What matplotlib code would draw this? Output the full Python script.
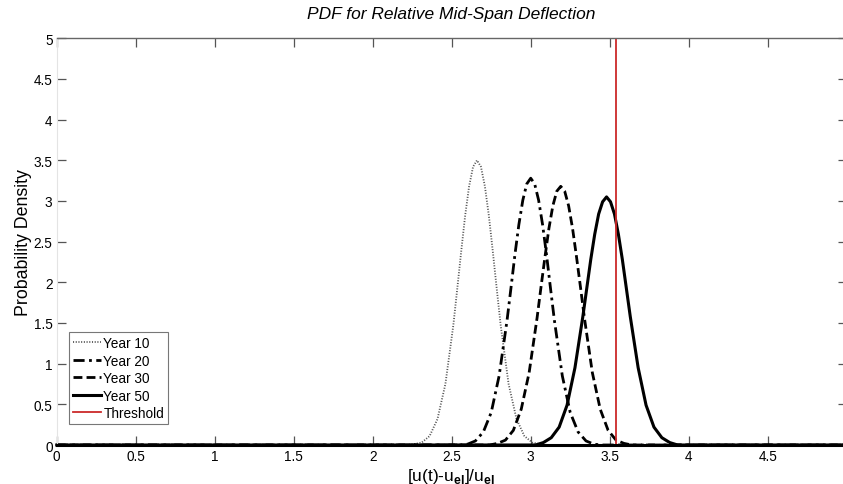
import matplotlib
matplotlib.use("Agg")
import matplotlib.pyplot as plt
import numpy as np

plt.rcParams['font.family'] = ['Liberation Sans', 'DejaVu Sans']
plt.rcParams['mathtext.fontset'] = 'custom'
plt.rcParams['mathtext.rm'] = 'Liberation Sans'
plt.rcParams['mathtext.bf'] = 'Liberation Sans:bold'

# values
x_year10 = [2.21, 2.26, 2.31, 2.36, 2.41, 2.46, 2.51, 2.535, 2.56, 2.585, 2.61, 2.635, 2.66,
            2.685, 2.71, 2.735, 2.76, 2.785, 2.81, 2.86, 2.91, 2.96, 3.01, 3.06, 3.11]
y_year10 = [0.00, 0.01, 0.03, 0.11, 0.32, 0.75, 1.47, 1.92, 2.38, 2.82, 3.18, 3.42, 3.50,
            3.42, 3.18, 2.82, 2.38, 1.92, 1.47, 0.75, 0.32, 0.11, 0.03, 0.01, 0.00]

x_year20 = [2.55, 2.60, 2.65, 2.70, 2.75, 2.80, 2.85, 2.875, 2.90, 2.925, 2.95, 2.975, 3.00,
            3.025, 3.05, 3.075, 3.10, 3.125, 3.15, 3.20, 3.25, 3.30, 3.35, 3.40, 3.45]
y_year20 = [0.00, 0.01, 0.05, 0.16, 0.40, 0.85, 1.53, 1.93, 2.34, 2.71, 3.01, 3.21, 3.28,
            3.21, 3.01, 2.71, 2.34, 1.93, 1.53, 0.85, 0.40, 0.16, 0.05, 0.01, 0.00]

x_year30 = [2.74, 2.79, 2.84, 2.89, 2.94, 2.99, 3.04, 3.065, 3.09, 3.115, 3.14, 3.165, 3.19,
            3.215, 3.24, 3.265, 3.29, 3.315, 3.34, 3.39, 3.44, 3.49, 3.54, 3.59, 3.64]
y_year30 = [0.00, 0.02, 0.06, 0.18, 0.44, 0.89, 1.56, 1.94, 2.31, 2.66, 2.94, 3.12, 3.18,
            3.12, 2.94, 2.66, 2.31, 1.94, 1.56, 0.89, 0.44, 0.18, 0.06, 0.02, 0.00]

x_year50 = [3.03, 3.08, 3.13, 3.18, 3.23, 3.28, 3.33, 3.355, 3.38, 3.405, 3.43, 3.455, 3.48,
            3.505, 3.53, 3.555, 3.58, 3.605, 3.63, 3.68, 3.73, 3.78, 3.83, 3.88, 3.93]
y_year50 = [0.00, 0.03, 0.09, 0.22, 0.49, 0.95, 1.58, 1.93, 2.28, 2.59, 2.84, 2.99, 3.05,
            2.99, 2.84, 2.59, 2.28, 1.93, 1.58, 0.95, 0.49, 0.22, 0.09, 0.03, 0.00]

threshold = 3.54
x_range = [0, 5]
x_ticks = [0, 0.5, 1, 1.5, 2, 2.5, 3, 3.5, 4, 4.5]
x_ticklabels = ['0', '0.5', '1', '1.5', '2', '2.5', '3', '3.5', '4', '4.5']
y_ticks = [0, 0.5, 1, 1.5, 2, 2.5, 3, 3.5, 4, 4.5, 5]
y_ticklabels = ['0', '0.5', '1', '1.5', '2', '2.5', '3', '3.5', '4', '4.5', '5']


def full_line(xs, ys):
    # curves sit on zero over the whole x range
    return [x_range[0]] + xs + [x_range[1]], [0] + ys + [0]


fig = plt.figure(figsize=(8.43, 4.85), dpi=100)
ax = fig.add_axes([0.0673, 0.0804, 0.9371, 0.8386])

ax.plot(*full_line(x_year10, y_year10), color='#555555', lw=1.3,
        linestyle=(0, (0.6, 0.9)), label='Year 10', clip_on=False)
ax.plot(*full_line(x_year20, y_year20), color='black', lw=2.0,
        linestyle=(0, (4, 1.6, 1, 1.6)), label='Year 20', clip_on=False)
ax.plot(*full_line(x_year30, y_year30), color='black', lw=2.0,
        linestyle=(0, (3.2, 1.5)), label='Year 30', clip_on=False)
ax.plot(*full_line(x_year50, y_year50), color='black', lw=2.2,
        linestyle='-', label='Year 50', clip_on=False)
ax.axvline(threshold, color='#cc2a2a', lw=1.3, label='Threshold')

ax.set_xlim(x_range)
ax.set_ylim(0, 5)
ax.set_xticks(x_ticks)
ax.set_xticklabels(x_ticklabels)
ax.set_yticks(y_ticks)
ax.set_yticklabels(y_ticklabels)
ax.tick_params(direction='in', length=6.5, width=0.9, colors='#555555',
               labelcolor='black', labelsize=9.8, pad=3,
               top=True, right=True)

ax.spines['top'].set_color('#666666')
ax.spines['top'].set_linewidth(1.0)
ax.spines['left'].set_color('#e4e4e4')
ax.spines['bottom'].set_color('black')
ax.spines['bottom'].set_linewidth(2.2)
ax.spines['right'].set_visible(False)

ax.set_ylabel('Probability Density', fontsize=12.8, labelpad=1)
fig.text(0.535, 0.018, r'[u(t)-u$_{\mathbf{el}}$]/u$_{\mathbf{el}}$',
         ha='center', va='center', fontsize=12.5)
fig.text(0.535, 1 - 14 / 485, 'PDF for Relative Mid-Span Deflection',
         ha='center', va='center', fontsize=12.5, style='italic')

leg = ax.legend(loc='lower left', bbox_to_anchor=(0.0156, 0.0516),
                borderaxespad=0, fontsize=9.8, frameon=True, fancybox=False,
                handlelength=2.1, handletextpad=0.15, labelspacing=0.26,
                borderpad=0.28, framealpha=1)
leg.get_frame().set_edgecolor('#777777')
leg.get_frame().set_linewidth(0.8)

fig.savefig('out.png', dpi=100)
